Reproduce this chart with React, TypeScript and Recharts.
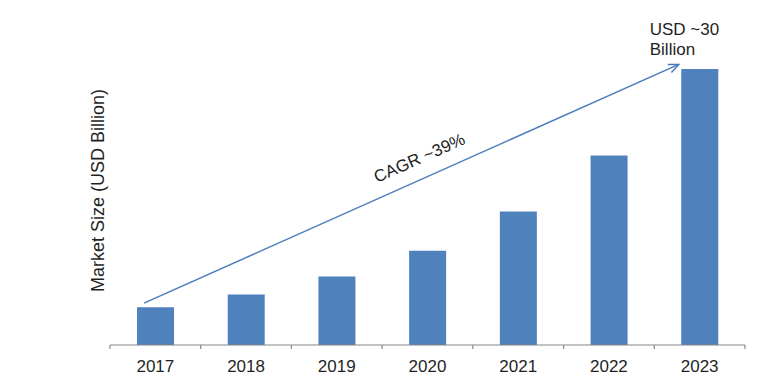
import { BarChart, Bar, XAxis, YAxis, ReferenceLine, ReferenceDot } from "recharts";

const years = ["2017", "2018", "2019", "2020", "2021", "2022", "2023"];
const marketSize = [4.1, 5.5, 7.45, 10.25, 14.5, 20.6, 30];

// arrow + annotation anchors, in (category slot, USD bn) units; slot 0..7 spans the axis
const arrowStart = { x: 0.375, y: 4.55 };
const arrowEnd = { x: 6.27, y: 30.5 };
const cagrAnchor = { x: 3.41, y: 20.35 };
const totalAnchor = { x: 5.95, y: 33.7 };

const cagrText = "CAGR ~39%";
const totalLines = ["USD ~30", "Billion"];
const yTitle = "Market Size (USD Billion)";

const data = years.map((year, i) => ({ year, slot: i + 0.5, value: marketSize[i] }));

const FONT = "'Liberation Sans', Arial, sans-serif";
const BLUE = "#4F81BD";
const AXIS = "#868686";
const INK = "#1f1f1f";

function YearTick(props: any) {
  const { x, y, payload, index, visibleTicksCount, width } = props;
  const bw = width / visibleTicksCount;
  const left = x - bw / 2;
  return (
    <g>
      <line x1={left} y1={y} x2={left} y2={y + 4} stroke={AXIS} strokeWidth={1.2} />
      {index === visibleTicksCount - 1 ? (
        <line x1={x + bw / 2} y1={y} x2={x + bw / 2} y2={y + 4} stroke={AXIS} strokeWidth={1.2} />
      ) : null}
      <text x={x} y={y + 27} textAnchor="middle" fontSize={17} fontFamily={FONT} fill={INK}>
        {payload.value}
      </text>
    </g>
  );
}

function ArrowShape(props: any) {
  const { x1, y1, x2, y2 } = props;
  if ([x1, y1, x2, y2].some((v) => typeof v !== "number")) return null;
  const ang = Math.atan2(y2 - y1, x2 - x1);
  const len = 11;
  const spread = 0.42;
  const a = [x2 - len * Math.cos(ang - spread), y2 - len * Math.sin(ang - spread)];
  const b = [x2 - len * Math.cos(ang + spread), y2 - len * Math.sin(ang + spread)];
  return (
    <g>
      <line x1={x1} y1={y1} x2={x2} y2={y2} stroke="#4A7EBB" strokeWidth={1.5} />
      <polyline
        points={`${a[0]},${a[1]} ${x2},${y2} ${b[0]},${b[1]}`}
        fill="none"
        stroke="#4A7EBB"
        strokeWidth={1.5}
      />
    </g>
  );
}

function CagrLabel(props: any) {
  const { cx, cy } = props;
  if (typeof cx !== "number") return null;
  return (
    <text
      x={cx}
      y={cy}
      dy="0.35em"
      textAnchor="middle"
      fontSize={17}
      fontFamily={FONT}
      fill={INK}
      transform={`rotate(-24, ${cx}, ${cy})`}
    >
      {cagrText}
    </text>
  );
}

function TotalLabel(props: any) {
  const { cx, cy } = props;
  if (typeof cx !== "number") return null;
  return (
    <text x={cx} y={cy} fontSize={17} fontFamily={FONT} fill={INK}>
      {totalLines.map((line, i) => (
        <tspan key={i} x={cx} dy={i === 0 ? 0 : 20}>
          {line}
        </tspan>
      ))}
    </text>
  );
}

function YTitle(props: any) {
  const vb = props.viewBox || { x: 0, y: 0, width: 0, height: 0 };
  const cx = vb.x + vb.width - 12;
  const cy = vb.y + vb.height * 0.44;
  return (
    <text
      x={cx}
      y={cy}
      dy="0.35em"
      textAnchor="middle"
      fontSize={18}
      fontFamily={FONT}
      fill={INK}
      transform={`rotate(-90, ${cx}, ${cy})`}
    >
      {yTitle}
    </text>
  );
}

export default function App() {
  return (
    <div style={{ position: "absolute", left: 0, top: 0, width: 768, height: 381, background: "#fff" }}>
      <BarChart width={768} height={381} data={data} margin={{ top: 69, right: 23, bottom: 6, left: 0 }}>
        <XAxis
          dataKey="year"
          height={30}
          axisLine={{ stroke: AXIS, strokeWidth: 1.2 }}
          tickLine={false}
          tickSize={0}
          tickMargin={0}
          interval={0}
          tick={<YearTick />}
        />
        <XAxis xAxisId="pos" dataKey="slot" type="number" domain={[0, 7]} allowDataOverflow hide />
        <YAxis
          domain={[0, 30]}
          width={110}
          axisLine={false}
          tickLine={false}
          tick={false}
          label={{ content: <YTitle /> }}
        />
        <Bar dataKey="value" fill={BLUE} barSize={37} isAnimationActive={false} />
        <ReferenceLine
          xAxisId="pos"
          segment={[arrowStart, arrowEnd]}
          ifOverflow="visible"
          shape={<ArrowShape />}
        />
        <ReferenceDot xAxisId="pos" x={cagrAnchor.x} y={cagrAnchor.y} ifOverflow="visible" shape={<CagrLabel />} />
        <ReferenceDot xAxisId="pos" x={totalAnchor.x} y={totalAnchor.y} ifOverflow="visible" shape={<TotalLabel />} />
      </BarChart>
    </div>
  );
}
